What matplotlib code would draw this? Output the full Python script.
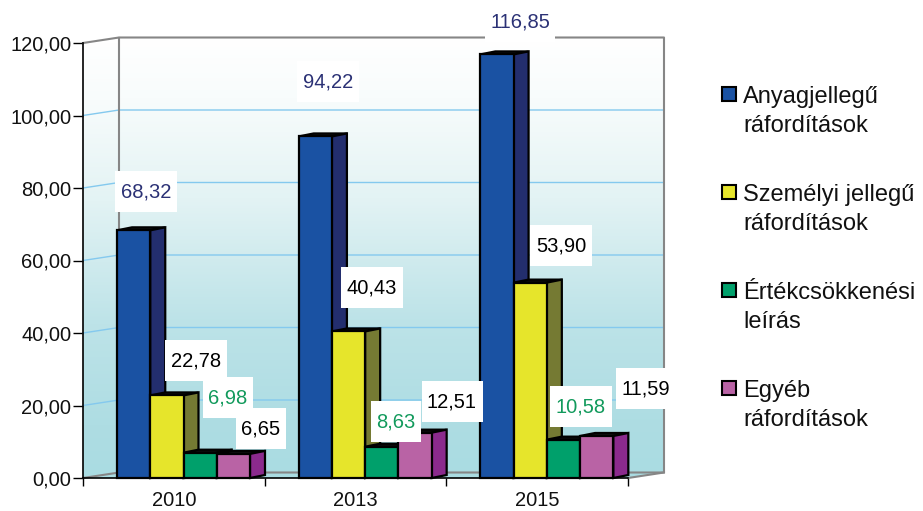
import matplotlib.pyplot as plt
import numpy as np
from matplotlib.colors import LinearSegmentedColormap
from matplotlib.patches import Polygon, Rectangle
from matplotlib.transforms import Affine2D

plt.rcParams["font.family"] = ["Liberation Sans", "DejaVu Sans"]

# Data
years = ["2010", "2013", "2015"]
anyag = [68.32, 94.22, 116.85]
szemelyi = [22.78, 40.43, 53.90]
ertek = [6.98, 8.63, 10.58]
egyeb = [6.65, 12.51, 11.59]
series_names = [
    "Anyagjellegű\nráfordítások",
    "Személyi jellegű\nráfordítások",
    "Értékcsökkenési\nleírás",
    "Egyéb\nráfordítások",
]
y_ticks = [0, 20, 40, 60, 80, 100, 120]

# Styles
front_colors = ["#1a52a3", "#e6e52b", "#00a06b", "#b963a5"]
side_colors = ["#232e6e", "#757a33", "#0b6b4c", "#8b2a8d"]
label_colors = ["#2b3175", "black", "#129a5c", "black"]
# label centres in pixels, per series then per year
label_pos = [
    [(146, 192), (328, 82), (520, 22)],
    [(196, 361), (372, 288), (561, 246)],
    [(228, 398), (396, 422), (581, 407)],
    [(261, 429), (452, 402), (646, 389)],
]
legend_y = [94, 192, 290, 388]
FS = 14.5
FS_LEG = 17

W, H = 923, 511
fig = plt.figure(figsize=(W / 100, H / 100), dpi=100)
ax = fig.add_axes([83 / W, 1 - 478 / H, 545 / W, 435 / H])
px = Affine2D().scale(1 / W, -1 / H).translate(0, 1) + fig.transFigure

ax.set_xlim(0, 3)
ax.set_ylim(0, 120)
ax.patch.set_visible(False)

# depth of the walls and of the bars, in data units
wall_dx, wall_dy = 36 / (545 / 3), 5.5 / (435 / 120)
bar_dx, bar_dy = 15 / (545 / 3), 3 / (435 / 120)
bar_w, bar_start = 33.25 / (545 / 3), 34 / (545 / 3)

# Walls
cmap = LinearSegmentedColormap.from_list(
    "wall",
    [(0, "#ffffff"), (0.14, "#f8fcfc"), (0.37, "#e3f3f4"), (0.65, "#bde3e8"), (0.88, "#aedde3"), (1, "#aadce2")],
)
grad = np.linspace(0, 1, 256).reshape(-1, 1)
left_wall = Polygon(
    [(0, 0), (wall_dx, wall_dy), (wall_dx, 120 + wall_dy), (0, 120)],
    closed=True, transform=ax.transData, facecolor="none", edgecolor="none",
)
ax.add_patch(left_wall)
left_img = ax.imshow(grad, cmap=cmap, aspect="auto", extent=(0, wall_dx, 0, 120 + wall_dy), zorder=1)
left_img.set_clip_path(left_wall)
back_img = ax.imshow(grad, cmap=cmap, aspect="auto", extent=(wall_dx, 3 + wall_dx, wall_dy, 120 + wall_dy), zorder=1)
back_img.set_clip_on(False)
ax.add_patch(Polygon(
    [(0, 0), (3, 0), (3 + wall_dx, wall_dy), (wall_dx, wall_dy)],
    closed=True, facecolor="#aadce2", edgecolor="none", zorder=1, clip_on=False,
))
ax.set_xlim(0, 3)
ax.set_ylim(0, 120)

# Grid lines
for t in y_ticks[1:-1]:
    ax.plot([0, wall_dx, 3 + wall_dx], [t, t + wall_dy, t + wall_dy], color="#84c9ee", lw=1, zorder=2, clip_on=False)
# Wall outline
ax.plot([0, wall_dx, 3 + wall_dx, 3 + wall_dx, 3], [120, 120 + wall_dy, 120 + wall_dy, wall_dy, 0],
        color="#868686", lw=1.5, zorder=2, clip_on=False)
ax.plot([wall_dx, wall_dx], [wall_dy, 120 + wall_dy], color="#868686", lw=1.5, zorder=2, clip_on=False)
ax.plot([0, wall_dx, 3 + wall_dx], [0, wall_dy, wall_dy], color="#868686", lw=1.5, zorder=2, clip_on=False)

# Bars
z = 3
for g in range(len(years)):
    for s, vals in enumerate([anyag, szemelyi, ertek, egyeb]):
        v = vals[g]
        x0 = g + bar_start + s * bar_w
        x1 = x0 + bar_w
        edge = dict(edgecolor="black", linewidth=1.6, joinstyle="miter", zorder=z, clip_on=False)
        ax.add_patch(Polygon(
            [(x0, v), (x0 + bar_dx, v + bar_dy), (x1 + bar_dx, v + bar_dy), (x1, v)],
            closed=True, facecolor="#111111", **edge,
        ))
        ax.add_patch(Polygon(
            [(x1, 0), (x1 + bar_dx, bar_dy), (x1 + bar_dx, v + bar_dy), (x1, v)],
            closed=True, facecolor=side_colors[s], **edge,
        ))
        ax.add_patch(Rectangle((x0, 0), bar_w, v, facecolor=front_colors[s], **edge))
        z += 1

# Axes
for side in ["top", "right"]:
    ax.spines[side].set_visible(False)
for side in ["left", "bottom"]:
    ax.spines[side].set_linewidth(1.2)
    ax.spines[side].set_zorder(z)
ax.set_yticks(y_ticks)
ax.set_yticklabels([f"{t:.2f}".replace(".", ",") for t in y_ticks], fontsize=FS, color="#111111")
ax.set_xticks([0, 1, 2, 3])
ax.set_xticklabels([])
ax.set_xticks([0.5, 1.5, 2.5], minor=True)
ax.set_xticklabels(years, minor=True, fontsize=FS, color="#111111")
ax.tick_params(axis="y", length=7, width=1, pad=1.5)
ax.tick_params(axis="x", which="major", length=5.5, width=1, direction="out")
ax.tick_params(axis="x", which="minor", length=0, pad=9.5)

# Value labels with white boxes
renderer = fig.canvas.get_renderer()
for s, vals in enumerate([anyag, szemelyi, ertek, egyeb]):
    for g, v in enumerate(vals):
        cx, cy = label_pos[s][g]
        t = ax.text(cx, cy, f"{v:.2f}".replace(".", ","), transform=px, ha="center", va="center",
                    fontsize=FS, color=label_colors[s], zorder=z + 2, clip_on=False)
        bw = t.get_window_extent(renderer).width + 11
        ax.add_patch(Rectangle((cx - bw / 2, cy - 20.5), bw, 41, transform=px, facecolor="white",
                               edgecolor="none", zorder=z + 1, clip_on=False))

# Legend
for s, name in enumerate(series_names):
    y = legend_y[s]
    ax.add_patch(Rectangle((721.5, y - 7), 14, 14.5, transform=px, facecolor=front_colors[s],
                           edgecolor="black", linewidth=1.5, clip_on=False))
    line1, line2 = name.split("\n")
    ax.text(743, y + 9, line1, transform=px, ha="left", va="baseline", fontsize=FS_LEG, color="#111111", clip_on=False)
    ax.text(743, y + 38, line2, transform=px, ha="left", va="baseline", fontsize=FS_LEG, color="#111111", clip_on=False)

fig.savefig("out.png", dpi=100)
